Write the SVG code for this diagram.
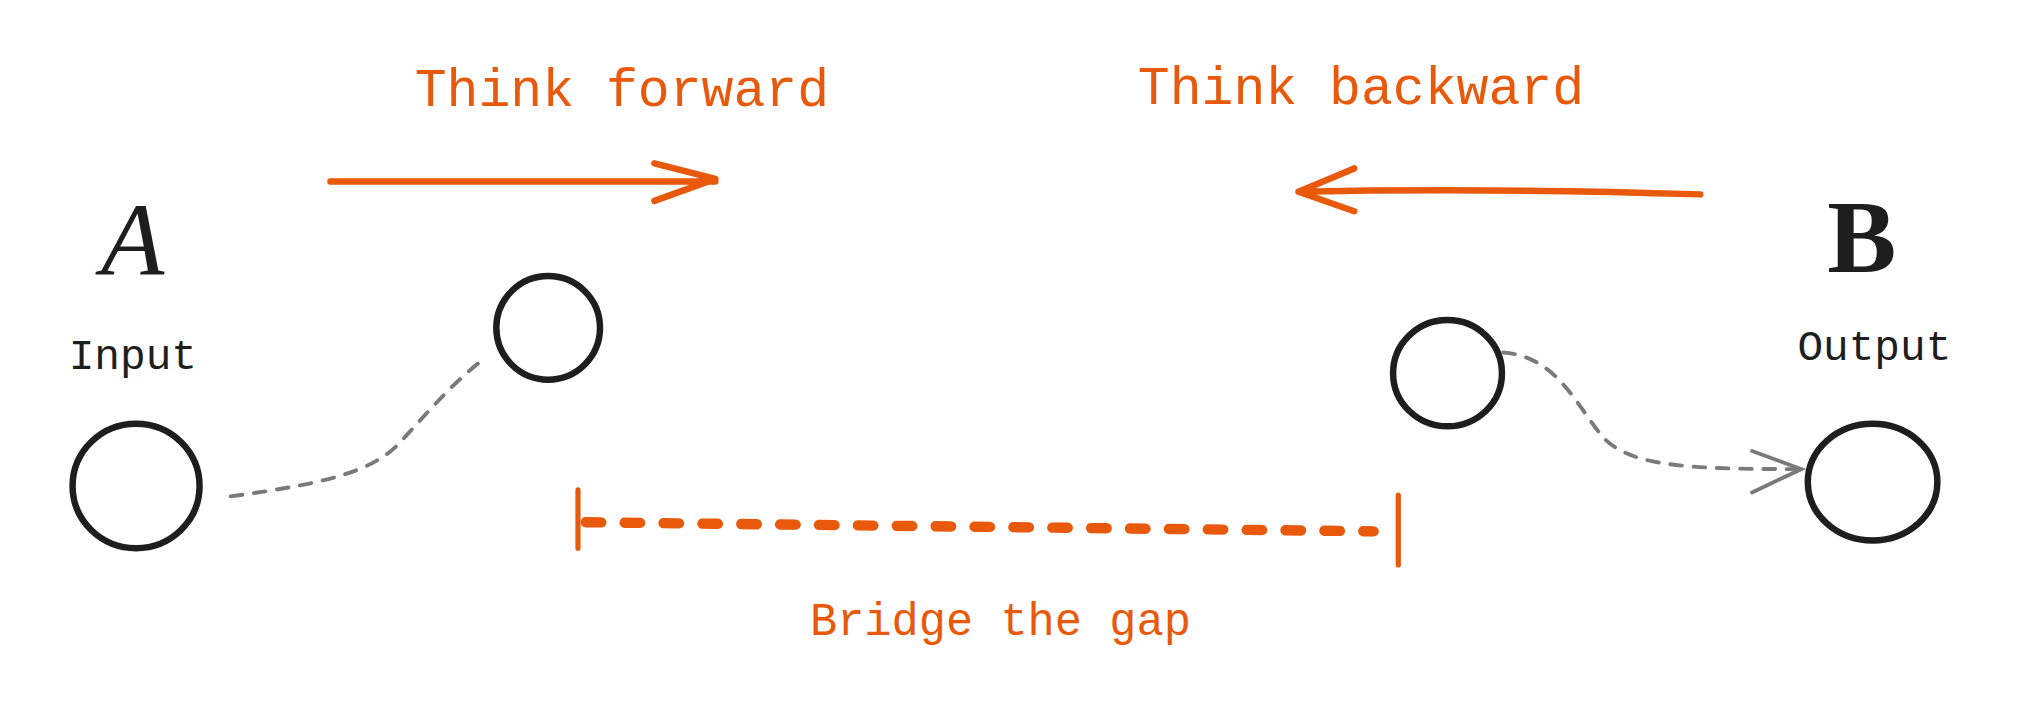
<svg xmlns="http://www.w3.org/2000/svg" width="2032" height="710" viewBox="0 0 2032 710">
<defs><style>
.o{fill:none;stroke:#e8590c;stroke-linecap:round;stroke-linejoin:round}
.g{fill:none;stroke:#7a7a7a;stroke-width:3;stroke-dasharray:9 9;stroke-linecap:round}
.c{fill:none;stroke:#1e1e1e;stroke-width:5}
.t{font-family:"Liberation Mono",monospace;fill:#e8590c}
.k{font-family:"Liberation Mono",monospace;fill:#1e1e1e}
</style></defs>
<rect width="2032" height="710" fill="#fff"/>
<g transform="scale(1.2959)">
<g id="labels">
<text class="t" x="320" y="82" font-size="41">Think forward</text>
<text class="t" x="878" y="80" font-size="41">Think backward</text>
<text class="t" x="625" y="490" font-size="35">Bridge the gap</text>
</g>
<g id="nodeA">
<text x="78" y="212" font-family="Liberation Serif,serif" font-style="italic" font-size="80" fill="#1e1e1e">A</text>
<text class="k" x="53" y="285" font-size="33">Input</text>
<ellipse class="c" cx="105" cy="375" rx="49" ry="48"/>
</g>
<g id="node2"><ellipse class="c" cx="423" cy="253" rx="40" ry="40"/></g>
<g id="node3"><ellipse class="c" cx="1117" cy="288" rx="42" ry="41"/></g>
<g id="nodeB">
<text x="1410" y="210" font-family="Liberation Serif,serif" font-weight="bold" font-size="80" fill="#1e1e1e">B</text>
<text class="k" x="1387" y="278" font-size="33">Output</text>
<ellipse class="c" cx="1445" cy="372" rx="50" ry="45"/>
</g>
<g id="connectors">
<path class="o" stroke-width="5" d="M255,140 L552,140 M505,126 L552,138 L505,155"/>
<path class="o" stroke-width="5" d="M1312,150 Q1150,145 1002,148 M1045,130 L1002,148 L1045,163"/>
<path class="g" d="M178,383 C260,372 290,362 310,340 S350,295 372,278"/>
<path class="g" d="M1160,272 C1200,275 1215,310 1235,335 S1300,362 1388,362"/>
<path fill="none" stroke="#7a7a7a" stroke-width="3" stroke-linecap="round" d="M1352,348 L1390,362 L1352,380"/>
<path class="o" stroke-width="4" d="M446,378 L446,423 M1079,382 L1079,436"/>
<path class="o" stroke-width="8" stroke-dasharray="12 18" d="M452,403 L1060,410"/>
</g>
</g>
</svg>
